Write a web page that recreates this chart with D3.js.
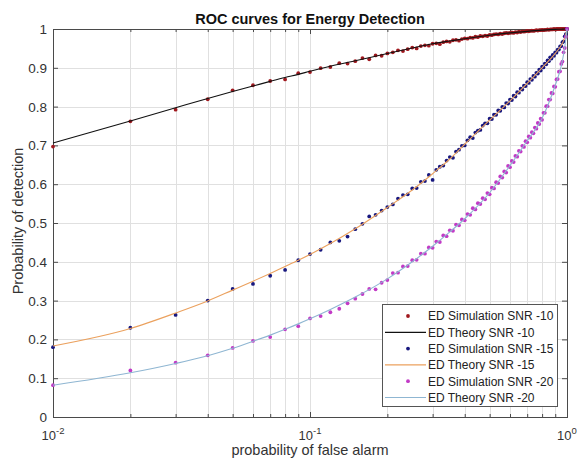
<!DOCTYPE html>
<html>
<head>
<meta charset="utf-8">
<script src="https://cdn.jsdelivr.net/npm/d3@7/dist/d3.min.js"></script>
<style>
  html, body { margin: 0; padding: 0; background: #fff; }
  svg { display: block; font-family: "Liberation Sans", Arial, sans-serif; }
</style>
</head>
<body>
<svg id="chart" width="579" height="463"></svg>
<script>
// False-alarm probabilities used by the simulation (one point per 0.01 step)
const pfSim = [
  0.01,0.02,0.03,0.04,0.05,0.06,0.07,0.08,0.09,0.10,
  0.11,0.12,0.13,0.14,0.15,0.16,0.17,0.18,0.19,0.20,
  0.21,0.22,0.23,0.24,0.25,0.26,0.27,0.28,0.29,0.30,
  0.31,0.32,0.33,0.34,0.35,0.36,0.37,0.38,0.39,0.40,
  0.41,0.42,0.43,0.44,0.45,0.46,0.47,0.48,0.49,0.50,
  0.51,0.52,0.53,0.54,0.55,0.56,0.57,0.58,0.59,0.60,
  0.61,0.62,0.63,0.64,0.65,0.66,0.67,0.68,0.69,0.70,
  0.71,0.72,0.73,0.74,0.75,0.76,0.77,0.78,0.79,0.80,
  0.81,0.82,0.83,0.84,0.85,0.86,0.87,0.88,0.89,0.90,
  0.91,0.92,0.93,0.94,0.95,0.96,0.97,0.98,0.99,1.00
];

// Simulated detection probabilities
const simSnr10 = [
  0.697,0.762,0.792,0.819,0.842,0.855,0.866,0.870,0.886,0.889,
  0.899,0.902,0.912,0.911,0.917,0.925,0.922,0.932,0.931,0.937,
  0.940,0.945,0.943,0.948,0.952,0.950,0.956,0.958,0.957,0.962,
  0.963,0.961,0.966,0.968,0.967,0.971,0.972,0.970,0.974,0.976,
  0.975,0.978,0.977,0.980,0.979,0.982,0.981,0.983,0.982,0.985,
  0.984,0.986,0.987,0.986,0.988,0.987,0.989,0.990,0.989,0.990,
  0.991,0.990,0.992,0.991,0.993,0.992,0.994,0.993,0.994,0.995,
  0.994,0.995,0.996,0.995,0.996,0.997,0.996,0.997,0.997,0.998,
  0.997,0.998,0.998,0.999,0.998,0.999,0.999,0.999,1.000,0.999,
  1.000,1.000,1.000,1.000,1.000,1.000,1.000,1.000,1.000,1.000
];
const simSnr15 = [
  0.180,0.230,0.263,0.300,0.330,0.343,0.364,0.379,0.404,0.420,
  0.431,0.450,0.454,0.465,0.484,0.498,0.517,0.521,0.532,0.541,
  0.548,0.563,0.572,0.574,0.589,0.590,0.606,0.608,0.624,0.611,
  0.637,0.645,0.648,0.661,0.670,0.668,0.684,0.689,0.699,0.700,
  0.713,0.721,0.719,0.733,0.738,0.740,0.751,0.757,0.757,0.769,
  0.768,0.779,0.779,0.790,0.789,0.799,0.798,0.809,0.808,0.818,
  0.817,0.828,0.826,0.837,0.836,0.846,0.844,0.854,0.853,0.863,
  0.861,0.871,0.869,0.879,0.877,0.887,0.885,0.895,0.893,0.903,
  0.901,0.911,0.909,0.919,0.917,0.927,0.924,0.933,0.931,0.940,
  0.939,0.947,0.947,0.955,0.956,0.966,0.968,0.981,0.987,1.000
];
const simSnr20 = [
  0.082,0.120,0.140,0.159,0.178,0.196,0.206,0.226,0.234,0.254,
  0.260,0.270,0.279,0.293,0.305,0.317,0.330,0.329,0.346,0.353,
  0.371,0.372,0.388,0.389,0.404,0.405,0.421,0.421,0.437,0.436,
  0.452,0.451,0.468,0.466,0.481,0.480,0.496,0.494,0.509,0.507,
  0.523,0.521,0.538,0.535,0.551,0.549,0.564,0.561,0.577,0.574,
  0.591,0.589,0.605,0.603,0.620,0.617,0.633,0.630,0.647,0.644,
  0.660,0.657,0.673,0.671,0.686,0.684,0.699,0.696,0.711,0.708,
  0.723,0.720,0.734,0.731,0.746,0.743,0.758,0.755,0.769,0.766,
  0.784,0.784,0.801,0.801,0.818,0.818,0.835,0.834,0.852,0.851,
  0.870,0.871,0.890,0.891,0.910,0.916,0.940,0.951,0.980,1.000
];

// Theoretical curves
const pfTheory = [0.01,0.02,0.03,0.04,0.05,0.06,0.07,0.08,0.09,0.10,0.12,0.15,0.20,
                  0.25,0.30,0.35,0.40,0.50,0.60,0.70,0.80,0.90,0.95,0.97,0.99,1.00];
const theorySnr10 = [0.706,0.763,0.797,0.821,0.839,0.853,0.865,0.875,0.883,0.891,0.904,0.918,0.937,
                     0.951,0.962,0.969,0.975,0.984,0.990,0.994,0.997,0.999,0.9995,0.9998,1.000,1.000];
const theorySnr15 = [0.183,0.228,0.268,0.299,0.327,0.350,0.370,0.388,0.404,0.419,0.447,0.485,0.540,
                     0.585,0.627,0.665,0.703,0.765,0.815,0.860,0.900,0.937,0.958,0.970,0.988,1.000];
const theorySnr20 = [0.082,0.114,0.138,0.158,0.177,0.195,0.211,0.226,0.240,0.253,0.277,0.309,0.356,
                     0.400,0.440,0.477,0.511,0.578,0.648,0.712,0.770,0.855,0.905,0.935,0.975,1.000];

const xMajorTicks = [0.01, 0.1, 1];
const xMinorTicks = [0.02,0.03,0.04,0.05,0.06,0.07,0.08,0.09,0.2,0.3,0.4,0.5,0.6,0.7,0.8,0.9];
const xTickExponents = ["-2", "-1", "0"];
const yTicks = [0,0.1,0.2,0.3,0.4,0.5,0.6,0.7,0.8,0.9,1];
const yTickLabels = ["0","0.1","0.2","0.3","0.4","0.5","0.6","0.7","0.8","0.9","1"];

const legendLabels = ["ED Simulation SNR -10","ED Theory SNR -10","ED Simulation SNR -15",
                      "ED Theory SNR -15","ED Simulation SNR -20","ED Theory SNR -20"];

const colors = {
  sim10: "#a0181e", th10: "#111111",
  sim15: "#17177e", th15: "#eba15e",
  sim20: "#c23ac6", th20: "#8fb6d2"
};

const svg = d3.select("#chart");
const plotLeft = 53, plotRight = 567, plotTop = 29, plotBottom = 417;

const x = d3.scaleLog().domain([0.01, 1]).range([plotLeft, plotRight]);
const y = d3.scaleLinear().domain([0, 1]).range([plotBottom, plotTop]);

// Grid
const grid = svg.append("g").attr("stroke", "#e0e0e0").attr("stroke-width", 1);
grid.selectAll("line.v").data(xMajorTicks.concat(xMinorTicks)).join("line")
  .attr("class", "v")
  .attr("x1", d => Math.round(x(d)) + 0.5).attr("x2", d => Math.round(x(d)) + 0.5)
  .attr("y1", plotTop).attr("y2", plotBottom);
grid.selectAll("line.h").data(yTicks).join("line")
  .attr("class", "h")
  .attr("x1", plotLeft).attr("x2", plotRight)
  .attr("y1", d => Math.round(y(d)) + 0.5).attr("y2", d => Math.round(y(d)) + 0.5);

// Axes (ticks pointing inward, box on all four sides)
const axisColor = "#4a4a4a";
const axisBottom = d3.axisBottom(x).tickValues(xMajorTicks).tickSize(-5).tickFormat("");
const axisTop = d3.axisTop(x).tickValues(xMajorTicks).tickSize(-5).tickFormat("");
const axisBottomMinor = d3.axisBottom(x).tickValues(xMinorTicks).tickSize(-3).tickFormat("");
const axisTopMinor = d3.axisTop(x).tickValues(xMinorTicks).tickSize(-3).tickFormat("");
const axisLeft = d3.axisLeft(y).tickValues(yTicks).tickSize(-5).tickFormat("");
const axisRight = d3.axisRight(y).tickValues(yTicks).tickSize(-5).tickFormat("");

function styleAxis(g) {
  g.selectAll("path, line").attr("stroke", axisColor);
}
svg.append("g").attr("transform", `translate(0,${plotBottom})`).call(axisBottom).call(styleAxis);
svg.append("g").attr("transform", `translate(0,${plotBottom})`).call(axisBottomMinor).call(styleAxis);
svg.append("g").attr("transform", `translate(0,${plotTop})`).call(axisTop).call(styleAxis);
svg.append("g").attr("transform", `translate(0,${plotTop})`).call(axisTopMinor).call(styleAxis);
svg.append("g").attr("transform", `translate(${plotLeft},0)`).call(axisLeft).call(styleAxis);
svg.append("g").attr("transform", `translate(${plotRight},0)`).call(axisRight).call(styleAxis);

// Tick labels
svg.append("g").selectAll("text").data(yTicks).join("text")
  .attr("x", plotLeft - 6).attr("y", d => y(d) + 5)
  .attr("text-anchor", "end").attr("font-size", 13.5).attr("fill", "#333")
  .text((d, i) => yTickLabels[i]);

const xl = svg.append("g").selectAll("text").data(xMajorTicks).join("text")
  .attr("x", d => x(d)).attr("y", 440)
  .attr("text-anchor", "middle").attr("font-size", 13).attr("fill", "#333");
xl.append("tspan").text("10");
xl.append("tspan").attr("dy", -6).attr("font-size", 9.5).text((d, i) => xTickExponents[i]);

// Titles
svg.append("text").attr("x", 310).attr("y", 24).attr("text-anchor", "middle")
  .attr("font-size", 14.5).attr("font-weight", "bold").attr("fill", "#111")
  .text("ROC curves for Energy Detection");
svg.append("text").attr("x", 310).attr("y", 455).attr("text-anchor", "middle")
  .attr("font-size", 14.5).attr("fill", "#333").text("probability of false alarm");
svg.append("text").attr("transform", "translate(23,221) rotate(-90)").attr("text-anchor", "middle")
  .attr("font-size", 14.5).attr("fill", "#333").text("Probability of detection");

// Plot contents
const plot = svg.append("g");
const line = d3.line().x(d => x(d[0])).y(d => y(d[1])).curve(d3.curveMonotoneX);

function drawTheory(values, color) {
  plot.append("path").datum(pfTheory.map((p, i) => [p, values[i]]))
    .attr("d", line).attr("fill", "none").attr("stroke", color).attr("stroke-width", 1.1);
}
function drawSim(values, color) {
  plot.append("g").selectAll("circle").data(pfSim.map((p, i) => [p, values[i]])).join("circle")
    .attr("cx", d => x(d[0])).attr("cy", d => y(d[1])).attr("r", 1.9).attr("fill", color);
}
drawSim(simSnr10, colors.sim10);
drawTheory(theorySnr10, colors.th10);
drawSim(simSnr15, colors.sim15);
drawTheory(theorySnr15, colors.th15);
drawSim(simSnr20, colors.sim20);
drawTheory(theorySnr20, colors.th20);

// Legend
const lg = svg.append("g");
const lgX = 382, lgY = 304, lgW = 175, lgH = 102, rowH = 16.3;
lg.append("rect").attr("x", lgX + 0.5).attr("y", lgY + 0.5).attr("width", lgW).attr("height", lgH)
  .attr("fill", "#fff").attr("stroke", "#555");
const legendKinds = [
  {type: "dot", color: colors.sim10}, {type: "line", color: colors.th10},
  {type: "dot", color: colors.sim15}, {type: "line", color: colors.th15},
  {type: "dot", color: colors.sim20}, {type: "line", color: colors.th20}
];
legendLabels.forEach((label, i) => {
  const cy = lgY + 12 + i * rowH;
  const k = legendKinds[i];
  if (k.type === "dot") {
    lg.append("circle").attr("cx", lgX + 26).attr("cy", cy).attr("r", 1.9).attr("fill", k.color);
  } else {
    lg.append("line").attr("x1", lgX + 3).attr("x2", lgX + 44).attr("y1", cy).attr("y2", cy)
      .attr("stroke", k.color).attr("stroke-width", 1.2);
  }
  lg.append("text").attr("x", lgX + 46).attr("y", cy + 4.3).attr("font-size", 12)
    .attr("fill", "#222").text(label);
});
</script>
</body>
</html>
